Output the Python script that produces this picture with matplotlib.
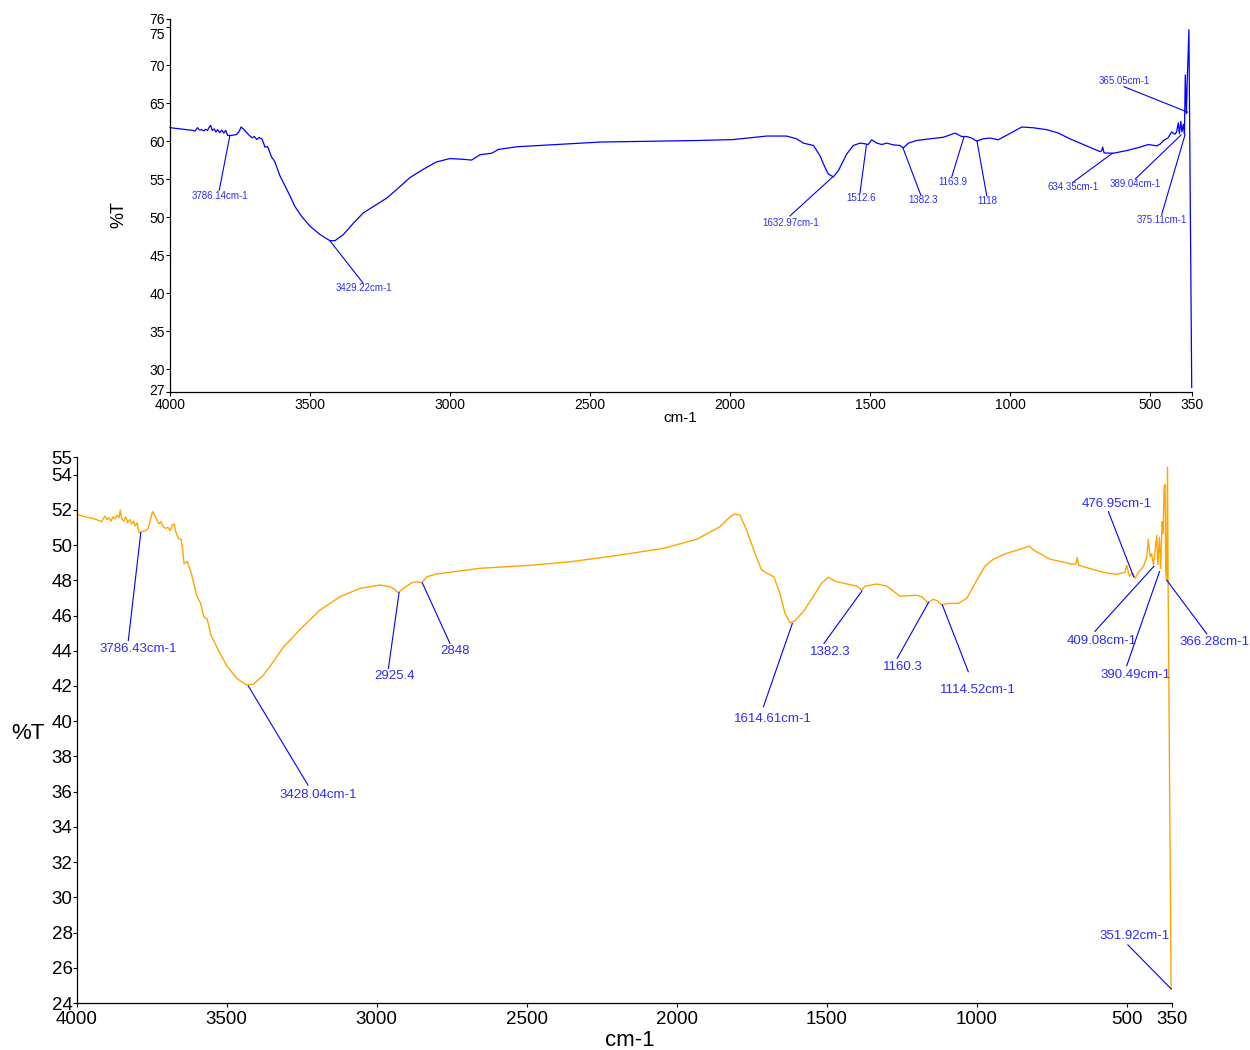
import matplotlib
matplotlib.use("Agg")
import matplotlib.pyplot as plt
from matplotlib.transforms import ScaledTranslation

plt.rcParams['font.family'] = ['Liberation Sans', 'DejaVu Sans']

# ---------------- spectrum A (blue) ----------------
wn_a = [4000, 3958, 3917, 3911, 3902, 3895, 3887, 3879, 3873, 3866, 3861, 3855, 3849,
        3842, 3836, 3830, 3822, 3815, 3808, 3801, 3794, 3780, 3762, 3753, 3746, 3738,
        3726, 3714, 3706, 3699, 3690, 3682, 3672, 3667, 3661, 3652, 3646, 3637, 3631,
        3625, 3607, 3589, 3571, 3554, 3530, 3500, 3464, 3429, 3411, 3381,
        3345, 3310, 3262, 3226, 3190, 3143, 3095, 3048, 3000, 2952, 2923, 2893, 2851,
        2827, 2762, 2643, 2464, 2107, 1988, 1869, 1798, 1762, 1738, 1702, 1679, 1661,
        1649, 1631, 1613, 1583, 1560, 1536, 1518, 1506, 1494, 1476, 1458, 1440, 1417,
        1393, 1381, 1363, 1333, 1286, 1238, 1196, 1173, 1155, 1137, 1119, 1095, 1071,
        1042, 1000, 958, 917, 869, 827, 786, 726, 679, 673, 669, 664, 631, 583, 536,
        506, 476, 464, 452, 435, 423, 411, 405, 399, 395, 390, 386, 381, 377, 374, 370,
        367, 361, 351]
t_a = [61.76, 61.58, 61.4, 61.3, 61.76, 61.45, 61.5, 61.35, 61.55, 61.4, 61.76, 62.07, 61.4,
       61.6, 61.18, 61.5, 61.1, 61.45, 61.05, 61.4, 60.74, 60.74, 60.87, 61.27, 61.85, 61.6,
       61.1, 60.65, 60.43, 60.6, 60.2, 60.47, 60.3, 59.86, 59.2, 59.28, 58.76, 57.87, 57.6,
       57.2, 55.4, 54.1, 52.76, 51.4, 50.1, 48.8, 47.7, 46.9, 46.9, 47.7,
       49.2, 50.55, 51.66, 52.5, 53.64, 55.2, 56.3, 57.26, 57.7, 57.6, 57.5, 58.2, 58.4,
       58.9, 59.25, 59.5, 59.87, 60.08, 60.2, 60.66, 60.66, 60.3, 59.73, 59.42, 58.1, 56.55,
       55.67, 55.3, 56.1, 58.3, 59.42, 59.73, 59.64, 59.55, 60.17, 59.73, 59.55, 59.73, 59.5,
       59.42, 59.1, 59.73, 60.08, 60.3, 60.5, 61.05, 60.6, 60.6, 60.4, 60.0, 60.3, 60.4,
       60.17, 61.0, 61.85, 61.75, 61.5, 61.05, 60.3, 59.35, 58.62, 58.7, 59.2, 58.44, 58.4,
       58.75, 59.2, 59.55, 59.37, 59.6, 60.08, 60.43, 61.2, 60.9, 61.2, 62.4, 60.96, 62.6,
       61.2, 62.2, 60.87, 68.7, 63.6, 68.0, 74.65, 27.6]

peaks_a = ["3786.14cm-1", "3429.22cm-1", "1632.97cm-1", "1512.6", "1382.3", "1163.9",
           "1118", "634.35cm-1", "389.04cm-1", "375.11cm-1", "365.05cm-1"]
peak_wn_a = [3786.14, 3429.22, 1632.97, 1512.6, 1382.3, 1163.9, 1118, 634.35, 389.04,
             375.11, 365.05]
peak_t_a = [60.74, 46.9, 55.3, 59.55, 59.1, 60.6, 60.0, 58.4, 60.8, 60.8, 63.8]

# ---------------- spectrum B (orange) ----------------
wn_b = [4000, 3972, 3939, 3917, 3906, 3899, 3892, 3886, 3879, 3872, 3866, 3859, 3855,
        3850, 3843, 3837, 3830, 3823, 3817, 3810, 3805, 3799, 3792, 3783, 3770, 3761,
        3752, 3747, 3739, 3732, 3726, 3719, 3712, 3703, 3695, 3688, 3681, 3675, 3670,
        3661, 3652, 3648, 3642, 3631, 3617, 3600, 3587, 3576, 3565, 3553,
        3528, 3500, 3467, 3433, 3411, 3378, 3345, 3311, 3256, 3189, 3122, 3056, 2989,
        2967, 2950, 2928, 2911, 2883, 2867, 2850, 2833, 2800, 2656, 2489, 2356, 2211,
        2045, 1933, 1856, 1822, 1806, 1789, 1767, 1739, 1717, 1695, 1676, 1656, 1639,
        1622, 1606, 1578, 1545, 1517, 1495, 1467, 1433, 1400, 1383, 1372, 1333, 1300,
        1256, 1201, 1184, 1162, 1145, 1131, 1117, 1094, 1061, 1033, 1000, 972, 945, 900,
        845, 825, 811, 756, 678, 669, 665, 660, 611, 567, 533, 506, 500, 491, 480, 472,
        461, 444, 433, 428, 422, 417, 411, 406, 400, 396, 391, 387, 382, 379, 375, 372,
        370, 367, 364, 362, 353, 351.92]
t_b = [51.75, 51.61, 51.48, 51.33, 51.65, 51.45, 51.55, 51.36, 51.6, 51.48, 51.7, 51.55, 51.99,
       51.5, 51.36, 51.6, 51.27, 51.45, 51.2, 51.36, 51.08, 51.27, 50.7, 50.76, 50.82, 50.95,
       51.61, 51.9, 51.65, 51.43, 51.2, 51.33, 51.04, 50.95, 51.0, 50.82, 51.14, 51.2, 50.76,
       50.38, 50.32, 49.91, 48.94, 49.07, 48.34, 47.13, 46.69, 45.92, 45.8, 44.91,
       44.04, 43.15, 42.44, 42.05, 42.1, 42.6, 43.37, 44.2, 45.2, 46.31, 47.07, 47.54, 47.73,
       47.67, 47.6, 47.3, 47.54, 47.86, 47.92, 47.86, 48.2, 48.36, 48.68, 48.85, 49.05, 49.38,
       49.81, 50.33, 51.04, 51.61, 51.76, 51.7, 50.85, 49.53, 48.58, 48.36, 48.2, 47.26, 46.12,
       45.59, 45.7, 46.22, 47.07, 47.83, 48.17, 47.92, 47.79, 47.67, 47.45, 47.67, 47.79, 47.67,
       47.1, 47.15, 47.07, 46.73, 46.92, 46.84, 46.6, 46.69, 46.69, 46.98, 48.0, 48.81, 49.19, 49.53,
       49.82, 49.95, 49.72, 49.2, 48.9, 48.94, 49.29, 48.85, 48.61, 48.41, 48.34, 48.45, 48.85,
       48.23, 48.41, 48.12, 48.45, 48.78, 49.34, 50.33, 49.34, 49.51, 48.9, 49.56, 50.55, 48.9,
       50.44, 48.67, 51.33, 50.66, 53.31, 53.43, 48.67, 48.0, 54.42, 48.0, 27.0, 24.8]

peaks_b = ["3786.43cm-1", "3428.04cm-1", "2925.4", "2848", "1614.61cm-1", "1382.3",
           "1160.3", "1114.52cm-1", "476.95cm-1", "409.08cm-1", "390.49cm-1",
           "366.28cm-1", "351.92cm-1"]
peak_wn_b = [3786.43, 3428.04, 2925.4, 2848, 1614.61, 1382.3, 1160.3, 1114.52, 476.95,
             409.08, 390.49, 366.28, 351.92]
peak_t_b = [50.7, 42.0, 47.3, 47.86, 45.55, 47.4, 46.75, 46.6, 48.2, 48.8, 48.5, 48.0, 24.8]

x_ticks = [4000, 3500, 3000, 2500, 2000, 1500, 1000, 500, 350]
y_ticks_a = [27, 30, 35, 40, 45, 50, 55, 60, 65, 70, 75, 76]
y_ticks_b = [24, 26, 28, 30, 32, 34, 36, 38, 40, 42, 44, 46, 48, 50, 52, 54, 55]

# leader-line end and label placement (wavenumber, %T) for each peak label
lead_a = [(3824, 53.55), (3310, 41.3), (1786, 50.15), (1536, 53.1), (1319, 52.93),
          (1208, 55.3), (1083, 52.8), (776, 54.56), (553, 55.0), (458, 50.37), (593, 67.15)]
text_a = [(3821, 52.84), (3306, 40.65), (1783, 49.26), (1532, 52.5), (1310, 52.3),
          (1206, 54.56), (1080, 52.17), (776, 53.9), (553, 54.3), (458, 49.6), (592, 67.9)]
lead_b = [(3828, 44.58), (3229, 36.37), (2961, 43.0), (2756, 44.42), (1711, 40.82),
          (1509, 44.42), (1265, 43.57), (1028, 42.81), (561, 51.9), (606, 45.1),
          (500, 43.15), (233, 44.96), (496, 27.3)]
text_b = [(3795, 44.1), (3195, 35.8), (2939, 42.58), (2739, 44.0), (1680, 40.1),
          (1489, 43.94), (1247, 43.09), (997, 41.77), (533, 52.32), (583, 44.58),
          (472, 42.64), (206, 44.48), (474, 27.8)]

LABEL_COLOR = '#2b2bff'

fig = plt.figure(figsize=(12.5, 10.5), dpi=100)


def style_axes(ax, yticks, ylim, fs, tick_len, ypad, xpad):
    ax.set_xlim(4000, 350)
    ax.set_ylim(*ylim)
    ax.set_xticks(x_ticks)
    ax.set_xticklabels([str(v) for v in x_ticks])
    ax.set_yticks(yticks)
    ax.set_yticklabels([str(v) for v in yticks])
    for s in ('top', 'right'):
        ax.spines[s].set_visible(False)
    for s in ('left', 'bottom'):
        ax.spines[s].set_linewidth(0.9)
    ax.tick_params(axis='both', direction='out', length=tick_len, width=0.8,
                   labelsize=fs, colors='black')
    ax.tick_params(axis='y', pad=ypad)
    ax.tick_params(axis='x', pad=xpad)


def shift_ytick_label(ax, value, dy_px):
    # nudge one crowded y tick label vertically (in pixels)
    for tick in ax.yaxis.get_major_ticks():
        if tick.get_loc() == value:
            lab = tick.label1
            lab.set_transform(lab.get_transform() +
                              ScaledTranslation(0, dy_px / 72.0, fig.dpi_scale_trans))


# ---------- upper panel ----------
ax1 = fig.add_axes([0.136, 0.6267, 0.8176, 0.3548])
ax1.plot(wn_a, t_a, color='#0000ff', lw=0.9, clip_on=False)
style_axes(ax1, y_ticks_a, (27, 76), 10, 3, 0.5, 1.5)
shift_ytick_label(ax1, 75, -4.5)
shift_ytick_label(ax1, 76, 1.0)
shift_ytick_label(ax1, 27, 2.0)
for lab, pw, pt, (lw_, lt_), (tw, tt) in zip(peaks_a, peak_wn_a, peak_t_a, lead_a, text_a):
    ax1.plot([pw, lw_], [pt, lt_], color='#0000ff', lw=0.8, clip_on=False)
    ax1.text(tw, tt, lab, color=LABEL_COLOR, fontsize=7, ha='center', va='center')
fig.text(0.095, 0.7952, '%T', rotation=90, fontsize=13, ha='center', va='center')
fig.text(0.544, 0.6019, 'cm-1', fontsize=11, ha='center', va='center')

# ---------- lower panel ----------
ax2 = fig.add_axes([0.06136, 0.04476, 0.876, 0.52])
ax2.plot(wn_b, t_b, color='#ffa500', lw=1.0, clip_on=False)
style_axes(ax2, y_ticks_b, (24, 55), 13.5, 3, 0.0, 3)
for lab, pw, pt, (lw_, lt_), (tw, tt) in zip(peaks_b, peak_wn_b, peak_t_b, lead_b, text_b):
    ax2.plot([pw, lw_], [pt, lt_], color='#0000ff', lw=0.8, clip_on=False)
    ax2.text(tw, tt, lab, color=LABEL_COLOR, fontsize=9.5, ha='center', va='center',
             clip_on=False)
fig.text(0.0224, 0.3019, '%T', fontsize=16, ha='center', va='center')
fig.text(0.504, 0.0095, 'cm-1', fontsize=16, ha='center', va='center')

fig.savefig('out.png', dpi=100, facecolor='white')
